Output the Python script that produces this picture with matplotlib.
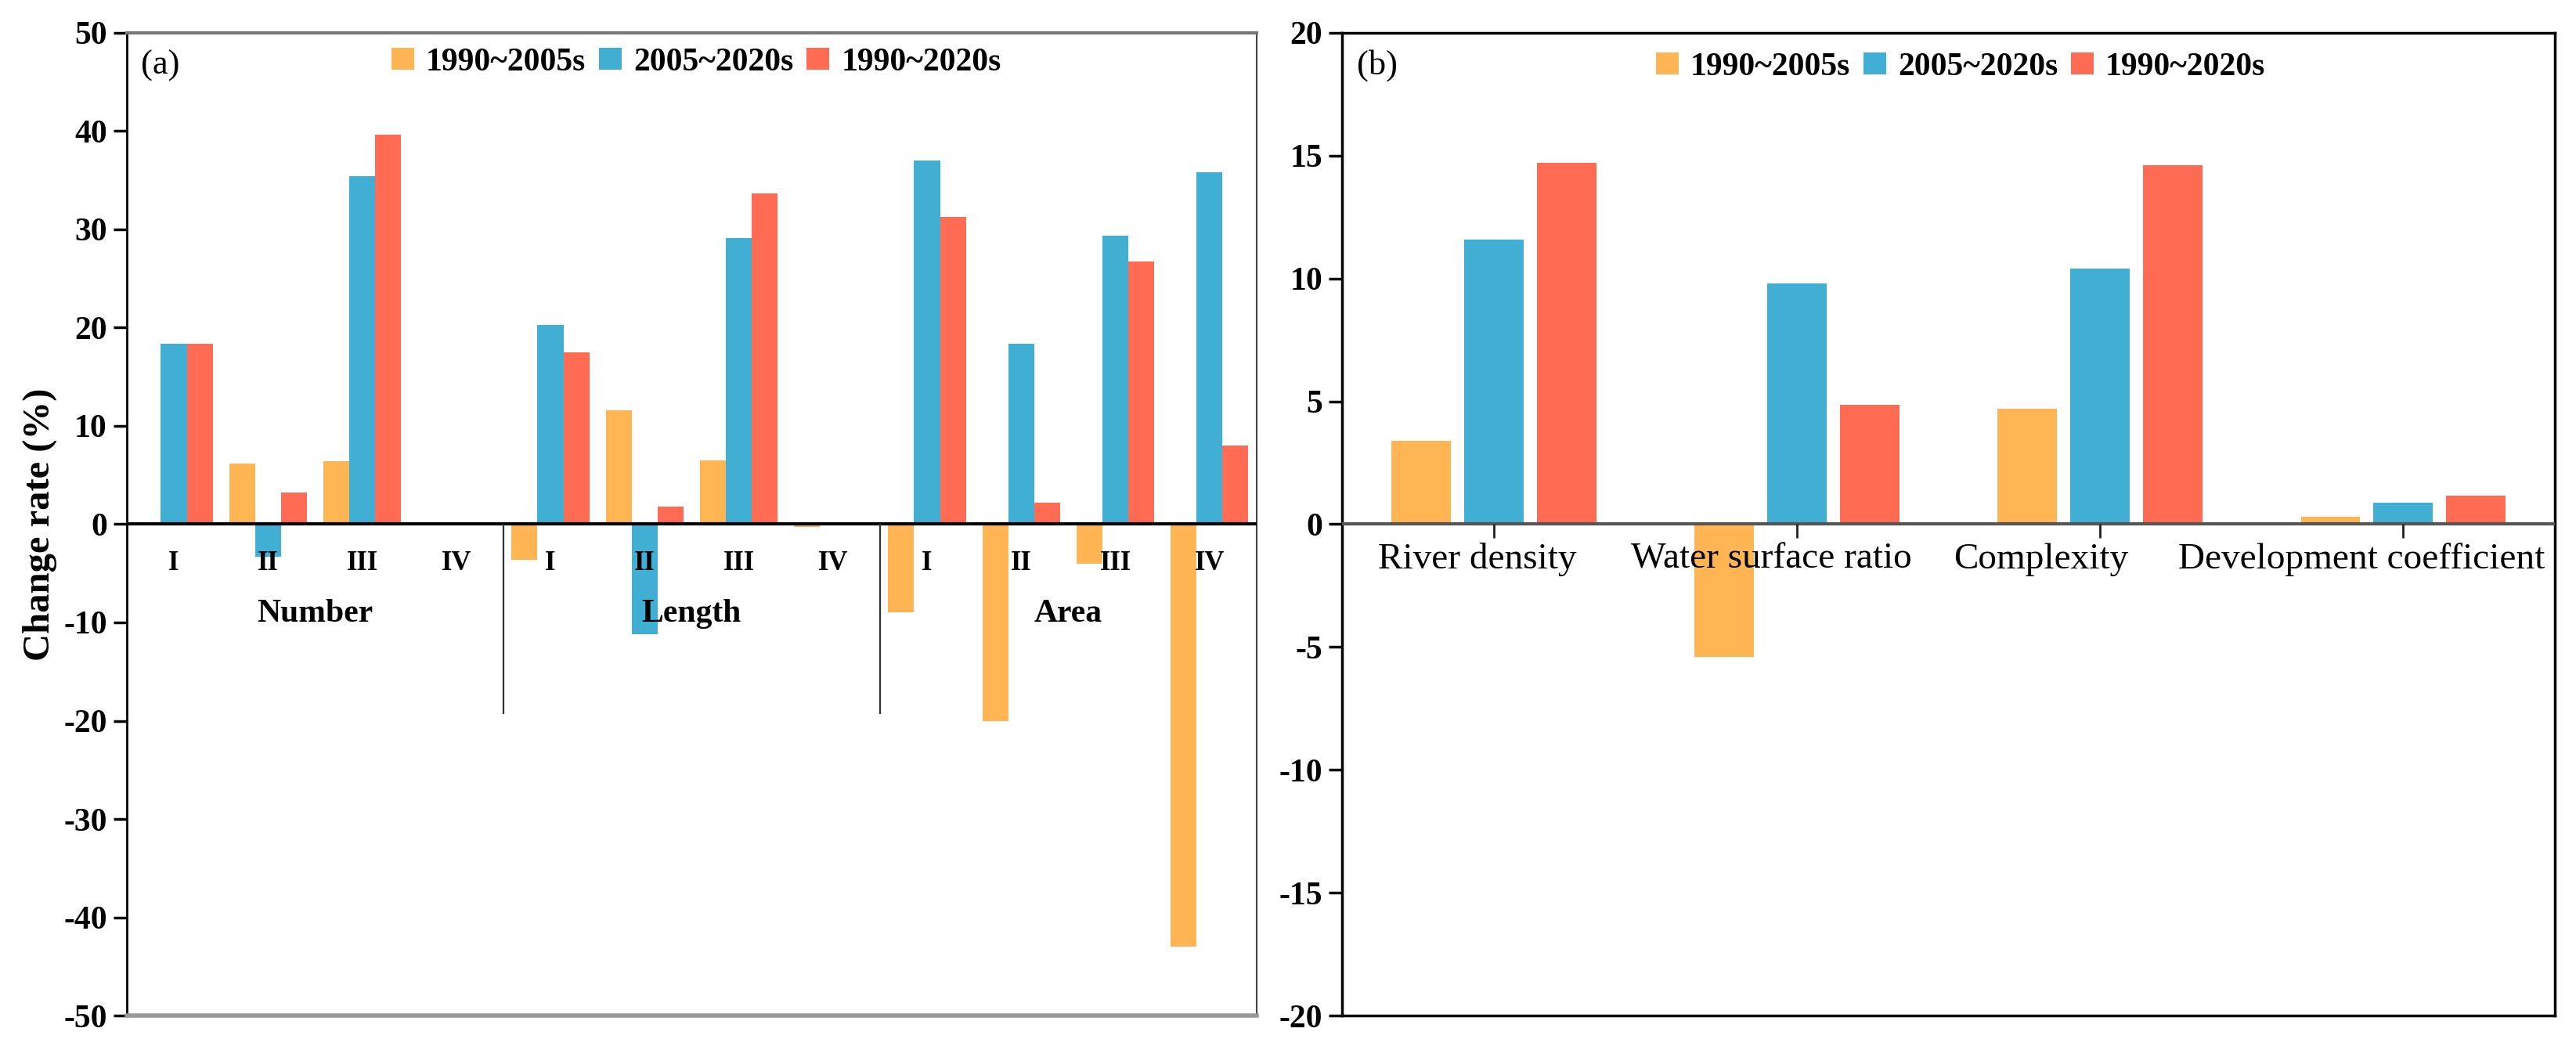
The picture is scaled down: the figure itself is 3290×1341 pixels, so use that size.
import numpy as np
import matplotlib
matplotlib.use("Agg")
import matplotlib.pyplot as plt
from matplotlib.patches import Patch

plt.rcParams['font.family'] = ['Liberation Serif', 'DejaVu Serif']
plt.rcParams['axes.unicode_minus'] = False

# ---- data ----
series = ['1990~2005s', '2005~2020s', '1990~2020s']
colors = ['#FFB554', '#41AED4', '#FF6B53']

groups_a = ['Number', 'Length', 'Area']
levels_a = ['I', 'II', 'III', 'IV']
# 12 bars per series: Number I-IV, Length I-IV, Area I-IV
a_1990_2005 = [0.2, 6.2, 6.4, 0.2, -3.6, 11.6, 6.5, -0.3, -9.0, -20.0, -4.0, -43.0]
a_2005_2020 = [18.4, -3.3, 35.4, 0.2, 20.3, -11.2, 29.1, 0.2, 37.0, 18.4, 29.4, 35.8]
a_1990_2020 = [18.4, 3.2, 39.6, 0.2, 17.5, 1.8, 33.7, 0.2, 31.3, 2.2, 26.7, 8.0]

cats_b = ['River density', 'Water surface ratio', 'Complexity', 'Development coefficient']
b_1990_2005 = [3.4, -5.4, 4.7, 0.3]
b_2005_2020 = [11.6, 9.8, 10.4, 0.87]
b_1990_2020 = [14.7, 4.85, 14.6, 1.15]

fig = plt.figure(figsize=(32.9, 13.41), dpi=100)
ax1 = fig.add_axes([0.0492, 0.0328, 0.4386, 0.9359])
ax2 = fig.add_axes([0.521, 0.0328, 0.4708, 0.9359])

# ---- panel (a) ----
x = np.arange(len(a_1990_2005))
w = 0.275
for i, vals in enumerate([a_1990_2005, a_2005_2020, a_1990_2020]):
    ax1.bar(x + (i - 1) * w, vals, w, color=colors[i], zorder=2)
ax1.axhline(0, color='black', lw=3, zorder=3)
ax1.set_xlim(-0.5, len(x) - 0.5)
ax1.set_ylim(-50, 50)
ax1.set_yticks(np.arange(-50, 51, 10))
ax1.set_xticks([])
ax1.tick_params(axis='y', direction='out', length=12, width=2.5, labelsize=30, pad=6)
for lab in ax1.get_yticklabels():
    lab.set_fontweight('bold')
ax1.set_ylabel('Change rate (%)', fontsize=35, fontweight='bold', labelpad=6)

for k, xi in enumerate(x):
    ax1.text(xi, -4.0, levels_a[k % 4], ha='center', va='center',
             fontsize=25, fontweight='bold', zorder=4)
for g, name in enumerate(groups_a):
    ax1.text(g * 4 + 1.5, -9.1, name, ha='center', va='center',
             fontsize=30, fontweight='bold', zorder=4)
for g in range(1, len(groups_a)):
    ax1.vlines(g * 4 - 0.5, -19.3, 0, color='#333333', lw=1.6, zorder=3)

ax1.spines['left'].set_color('black')
ax1.spines['left'].set_linewidth(2)
ax1.spines['top'].set_color('#777777')
ax1.spines['top'].set_linewidth(3)
ax1.spines['bottom'].set_color('#999999')
ax1.spines['bottom'].set_linewidth(4)
ax1.spines['right'].set_color('#444444')
ax1.spines['right'].set_linewidth(1.5)

ax1.text(0.0125, 0.967, '(a)', transform=ax1.transAxes, fontsize=32,
         ha='left', va='center')

handles = [Patch(facecolor=c, label=s) for c, s in zip(colors, series)]
ax1.legend(handles=handles, loc='center', bbox_to_anchor=(0.504, 0.97), ncol=3,
           frameon=False, prop={'size': 30, 'weight': 'bold'},
           handlelength=0.7, handleheight=0.65, handletextpad=0.36,
           columnspacing=0.4, borderaxespad=0)

# ---- panel (b) ----
xb = np.arange(len(cats_b))
wb = 0.196
off = 0.24
for i, vals in enumerate([b_1990_2005, b_2005_2020, b_1990_2020]):
    ax2.bar(xb + (i - 1) * off, vals, wb, color=colors[i], zorder=2)
ax2.axhline(0, color='#555555', lw=3, zorder=3)
ax2.set_xlim(-0.5, len(cats_b) - 0.5)
ax2.set_ylim(-20, 20)
ax2.set_yticks(np.arange(-20, 21, 5))
ax2.set_xticks([])
ax2.tick_params(axis='y', direction='out', length=12, width=2.5, labelsize=30, pad=6)
for lab in ax2.get_yticklabels():
    lab.set_fontweight('bold')

# short tick marks under the zero line, labels nudged left like the original
label_shift = [-0.054, -0.083, -0.194, -0.137]
for xi, name, sh in zip(xb, cats_b, label_shift):
    ax2.vlines(xi, -0.55, 0, color='#222222', lw=2, zorder=3)
    ax2.text(xi + sh, -0.75, name, ha='center', va='top', fontsize=34, zorder=4)

for sp in ax2.spines.values():
    sp.set_color('black')
    sp.set_linewidth(2.5)

ax2.text(0.012, 0.967, '(b)', transform=ax2.transAxes, fontsize=32,
         ha='left', va='center')
ax2.legend(handles=handles, loc='center', bbox_to_anchor=(0.51, 0.965), ncol=3,
           frameon=False, prop={'size': 30, 'weight': 'bold'},
           handlelength=0.7, handleheight=0.65, handletextpad=0.36,
           columnspacing=0.4, borderaxespad=0)

fig.savefig('out.png', dpi=100)
